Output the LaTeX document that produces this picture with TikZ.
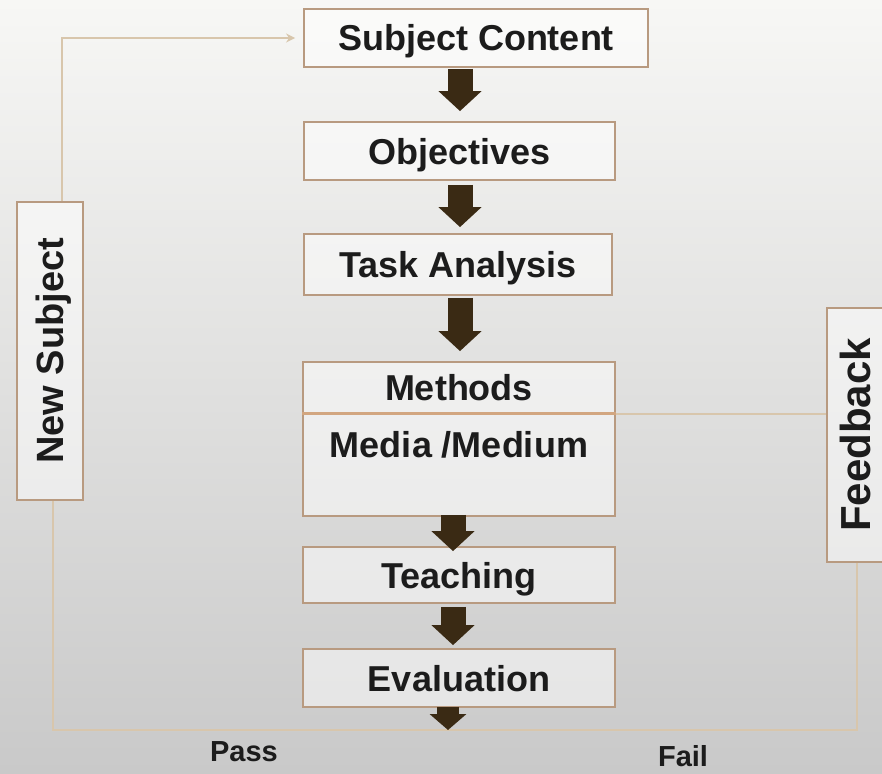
\documentclass[tikz,border=0pt]{standalone}
\usepackage{fontspec}
\setmainfont{Liberation Sans}
\usetikzlibrary{arrows.meta,calc}
\definecolor{bgtop}{HTML}{F7F7F5}
\definecolor{bgmid}{HTML}{EBEBEB}
\definecolor{bgbot}{HTML}{C9C9C9}
\definecolor{boxline}{HTML}{B89A80}
\definecolor{conn}{HTML}{D8C6AC}
\definecolor{divider}{HTML}{D2A680}
\definecolor{arrowbrown}{HTML}{3A2A14}
\definecolor{txt}{HTML}{1C1C1C}
\begin{document}
\begin{tikzpicture}[x=1pt,y=-1pt,
  box/.style={draw=boxline, line width=1.8pt, fill=white, fill opacity=0.5,
    text opacity=1, text=txt, inner sep=0pt, align=center,
    font=\fontsize{36}{40}\selectfont\bfseries, text height=26pt, text depth=0pt},
  conn/.style={draw=conn, line width=2.6pt},
  barrow/.style={draw=arrowbrown, line width=25pt,
    -{Triangle[width=42pt,length=20pt]}},
  barrowsmall/.style={draw=arrowbrown, line width=22pt,
    -{Triangle[width=36pt,length=16pt]}},
  lbl/.style={text=txt, font=\fontsize{29}{32}\selectfont\bfseries, inner sep=0pt,
    text height=21pt, text depth=0pt}]
\clip (0,0) rectangle (882,773);
\shade[top color=bgtop, middle color=bgmid, bottom color=bgbot] (0,0) rectangle (882,773);

% main column
\node[box, minimum width=344pt, minimum height=58pt] (sc) at (476,38) {Subject Content};
\node[box, minimum width=311pt, minimum height=58pt] (obj) at (459.5,151) {Objectives};
\node[box, minimum width=308pt, minimum height=61pt] (ta) at (458,264.5) {Task Analysis};
\node[box, minimum width=312pt, minimum height=51pt] (meth) at (459,387.5) {Methods};
\node[box, anchor=north, minimum width=312pt, minimum height=102pt,
      text height=44pt, text depth=58pt] (media) at (459,413) {Media /Medium};
\node[box, minimum width=312pt, minimum height=56pt] (teach) at (459,575) {Teaching};
\node[box, minimum width=312pt, minimum height=58pt] (eval) at (459,678) {Evaluation};

% side boxes
\node[box, rotate=90, minimum width=298pt, minimum height=66pt,
      font=\fontsize{38}{42}\selectfont\bfseries, text height=27pt] (ns) at (50,351) {New Subject};
\node[box, rotate=90, minimum width=254pt, minimum height=70pt,
      font=\fontsize{42}{46}\selectfont\bfseries, text height=30pt, text depth=14pt] (fb) at (862,435) {Feedback};

% divider between Methods and Media
\draw[draw=divider, line width=3pt] (meth.south west) -- (meth.south east);

% connectors
\coordinate (tl) at (62,38);
\coordinate (bl) at (53,730);
\coordinate (br) at (857,730);
\draw[conn, -{Stealth[length=9pt,width=9pt]}, shorten >=8pt] (ns.east -| tl) |- (sc.west);
\draw[conn] (ns.west -| bl) -- (bl) -- (br) -- (fb.west -| br);
\draw[conn] (meth.south east) -- (meth.south east -| fb.north);

% block arrows
\coordinate (ax1) at (460,0);
\coordinate (ax2) at (453,0);
\coordinate (ax3) at (448,0);
\coordinate (evout) at (448,730);
\draw[barrow, shorten <=1pt, shorten >=10pt] (sc.south -| ax1) -- (obj.north -| ax1);
\draw[barrow, shorten <=4pt, shorten >=6pt] (obj.south -| ax1) -- (ta.north -| ax1);
\draw[barrow, shorten <=2pt, shorten >=10pt] (ta.south -| ax1) -- (meth.north -| ax1);
\draw[barrow, shorten <=-2pt, shorten >=-5pt] (media.south -| ax2) -- (teach.north -| ax2);
\draw[barrow, shorten <=3pt, shorten >=3pt] (teach.south -| ax2) -- (eval.north -| ax2);
\draw[barrowsmall, shorten <=-1pt] (eval.south -| ax3) -- (evout);

% labels
\node[lbl] (pass) at (244,751) {Pass};
\node[lbl] (fail) at (683,756) {Fail};
\end{tikzpicture}
\end{document}
